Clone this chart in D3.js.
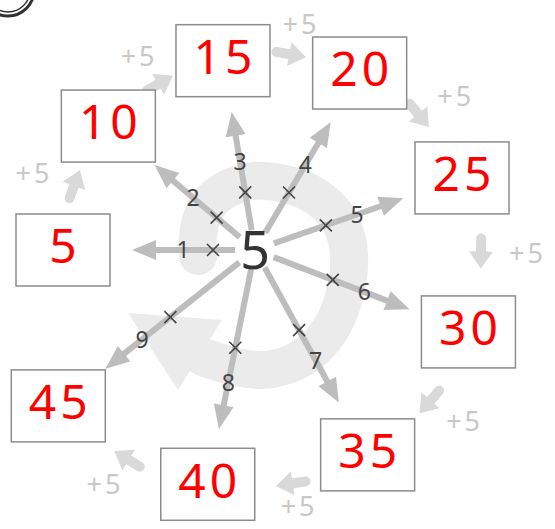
<!DOCTYPE html>
<html>
<head>
<meta charset="utf-8">
<script src="https://cdn.jsdelivr.net/npm/d3@7"></script>
<style>
body { margin: 0; background: #fff; }
svg { display: block; font-family: "Noto Sans", sans-serif; }
</style>
</head>
<body>
<div id="chart"></div>
<script>
var base = 5;
var multipliers = [1, 2, 3, 4, 5, 6, 7, 8, 9];
var products = [5, 10, 15, 20, 25, 30, 35, 40, 45];
var stepLabels = ["+5", "+5", "+5", "+5", "+5", "+5", "+5", "+5"];

var width = 555,
    height = 529;
var cx = 255, cy = 250;

var svg = d3.select("#chart").append("svg")
    .attr("width", width)
    .attr("height", height);

// angle in degrees (clockwise from 3 o'clock) and distances from the centre 5
var angle = d3.scaleLinear().domain([1, 9]).range([180, 501.6]);
var boxR = d3.scaleLinear().domain([1, 3, 5.5, 8, 9]).range([192, 192, 226, 239, 251]);
var tipR = d3.scaleLinear().domain([1, 9]).range([123, 191]);
var crossR = d3.scaleLinear().domain([1, 9]).range([42, 108]);
var labelR = d3.scaleLinear().domain([1, 9]).range([72, 144]);

function pt(a, r) {
  var t = a * Math.PI / 180;
  return [cx + r * Math.cos(t), cy + r * Math.sin(t)];
}
function head(tip, a, len, hw) {
  var t = a * Math.PI / 180, ux = Math.cos(t), uy = Math.sin(t);
  var bx = tip[0] - ux * len, by = tip[1] - uy * len;
  return [tip, [bx - uy * hw, by + ux * hw], [bx + uy * hw, by - ux * hw]];
}

// big light spiral in the background
var ring = [[198,256],[198,236],[205,210],[222,192],[253,181],[285,184],[312,194],[335,214],[347,240],
  [349,267],[344,297],[333,325],[314,349],[290,364],[262,370],[232,366],[203,357]];
svg.append("path")
    .attr("d", d3.line().curve(d3.curveCatmullRom)(ring))
    .attr("fill", "none")
    .attr("stroke", "#ebebeb")
    .attr("stroke-width", 38)
    .attr("stroke-linecap", "round");
svg.append("polygon")
    .attr("points", [[128,313],[222,320],[178,390]].join(" "))
    .attr("fill", "#ebebeb");

// circled number, cut by the top edge
svg.append("circle").attr("cx", 8).attr("cy", -10).attr("r", 26)
    .attr("fill", "none").attr("stroke", "#333").attr("stroke-width", 3);
svg.append("circle").attr("cx", 8).attr("cy", -10).attr("r", 22)
    .attr("fill", "none").attr("stroke", "#333").attr("stroke-width", 1.5);

// radial arrows base x m
var rays = svg.append("g").selectAll("g")
  .data(multipliers)
  .enter().append("g");

rays.append("line")
    .attr("x1", function(d) { return pt(angle(d), 20)[0]; })
    .attr("y1", function(d) { return pt(angle(d), 20)[1]; })
    .attr("x2", function(d) { return pt(angle(d), tipR(d) - 18)[0]; })
    .attr("y2", function(d) { return pt(angle(d), tipR(d) - 18)[1]; })
    .attr("stroke", "#bdbdbd")
    .attr("stroke-width", 6);

rays.append("polygon")
    .attr("points", function(d) { return head(pt(angle(d), tipR(d)), angle(d), 24, 10).join(" "); })
    .attr("fill", "#bdbdbd");

rays.append("path")
    .attr("d", function(d) {
      var p = pt(angle(d), crossR(d));
      return "M" + (p[0] - 6) + "," + (p[1] - 6) + "L" + (p[0] + 6) + "," + (p[1] + 6) +
             "M" + (p[0] - 6) + "," + (p[1] + 6) + "L" + (p[0] + 6) + "," + (p[1] - 6);
    })
    .attr("stroke", "#444")
    .attr("stroke-width", 1.6);

rays.append("text")
    .attr("x", function(d) { return pt(angle(d), labelR(d))[0]; })
    .attr("y", function(d) { return pt(angle(d), labelR(d))[1]; })
    .attr("dy", "0.36em")
    .attr("text-anchor", "middle")
    .attr("font-size", 23)
    .attr("fill", "#444")
    .text(function(d) { return d; });

svg.append("text")
    .attr("x", cx)
    .attr("y", cy)
    .attr("dy", "0.36em")
    .attr("text-anchor", "middle")
    .attr("font-size", 52)
    .attr("fill", "#333")
    .text(base);

// +5 steps between boxes
var steps = svg.append("g").selectAll("g")
  .data(stepLabels)
  .enter().append("g")
    .attr("transform", function(d, i) {
      var s = multipliers[i] + 0.5, m = pt(angle(s), boxR(s));
      return "translate(" + m[0] + "," + m[1] + ")";
    });

function stepAngle(i) { return angle(multipliers[i] + 0.5); }

steps.append("line")
    .attr("x1", function(d, i) { return -15 * Math.cos((stepAngle(i) + 90) * Math.PI / 180); })
    .attr("y1", function(d, i) { return -15 * Math.sin((stepAngle(i) + 90) * Math.PI / 180); })
    .attr("x2", function(d, i) { return 2 * Math.cos((stepAngle(i) + 90) * Math.PI / 180); })
    .attr("y2", function(d, i) { return 2 * Math.sin((stepAngle(i) + 90) * Math.PI / 180); })
    .attr("stroke", "#d9d9d9")
    .attr("stroke-width", 10)
    .attr("stroke-linecap", "round");

steps.append("polygon")
    .attr("points", function(d, i) {
      var a = stepAngle(i) + 90, t = a * Math.PI / 180;
      return head([15 * Math.cos(t), 15 * Math.sin(t)], a, 17, 12).join(" ");
    })
    .attr("fill", "#d9d9d9");

steps.append("text")
    .attr("x", function(d, i) { return 45 * Math.cos(stepAngle(i) * Math.PI / 180) + 1.5; })
    .attr("y", function(d, i) {
      var s = multipliers[i] + 0.5, my = pt(angle(s), boxR(s))[1];
      return Math.min(30 * Math.sin(stepAngle(i) * Math.PI / 180), height - 22 - my);
    })
    .attr("dy", "0.34em")
    .attr("text-anchor", "middle")
    .attr("font-size", 27)
    .attr("letter-spacing", 3)
    .attr("fill", "#c8c8c8")
    .text(function(d) { return d; });

// product boxes
var boxW = 94, boxH = 72;
var boxes = svg.append("g").selectAll("g")
  .data(multipliers)
  .enter().append("g")
    .attr("transform", function(d) { var p = pt(angle(d), boxR(d)); return "translate(" + p[0] + "," + p[1] + ")"; });

boxes.append("rect")
    .attr("x", -boxW / 2)
    .attr("y", -boxH / 2)
    .attr("width", boxW)
    .attr("height", boxH)
    .attr("fill", "#fff")
    .attr("stroke", "#8c8c8c")
    .attr("stroke-width", 1.5);

boxes.append("text")
    .attr("x", 2)
    .attr("y", -4)
    .attr("dy", "0.36em")
    .attr("text-anchor", "middle")
    .attr("font-size", 48)
    .attr("letter-spacing", 4)
    .attr("fill", "#ff0000")
    .text(function(d, i) { return products[i]; });
</script>
</body>
</html>
